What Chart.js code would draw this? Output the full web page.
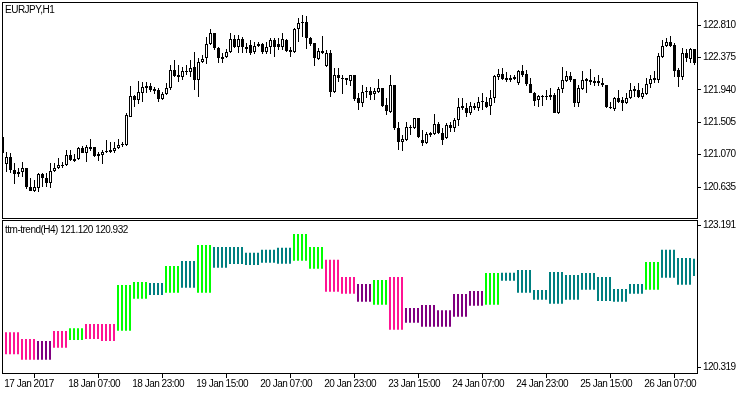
<!DOCTYPE html>
<html>
<head>
<meta charset="utf-8">
<title>EURJPY,H1</title>
<script src="https://cdn.jsdelivr.net/npm/chart.js@4.4.1/dist/chart.umd.min.js"></script>
<style>
    body { margin: 0; background: #fff; }
    #wrap { position: relative; width: 750px; height: 394px; overflow: hidden; }
    canvas { position: absolute; left: 0; }
    #price-chart { top: 0; }
    #trend-chart { top: 218px; }
    .caption {
        position: absolute; left: 5px; color: #000; white-space: nowrap;
        font: 10px "Liberation Sans", Arial, sans-serif; line-height: 10px; letter-spacing: -0.5px;
    }
</style>
</head>
<body>
<div id="wrap">
    <canvas id="price-chart" width="750" height="220"></canvas>
    <canvas id="trend-chart" width="750" height="176"></canvas>
    <div class="caption" style="top:5px">EURJPY,H1</div>
    <div class="caption" style="top:225px">ttm-trend(H4) 121.120 120.932</div>
</div>
<script>
// EURJPY H1 candles, 17 Jan 15:00 .. 26 Jan 20:00
const open = [
    121.307, 120.944, 121.038, 120.864, 120.810, 120.837, 120.890, 120.635, 120.582, 120.622,
    120.810, 120.756, 120.689, 120.850, 120.890, 120.931, 120.931, 121.065, 121.011, 121.011,
    121.159, 121.092, 121.172, 121.172, 121.078, 121.065, 121.119, 121.132, 121.119, 121.159,
    121.213, 121.199, 121.575, 121.857, 121.803, 121.897, 121.991, 121.991, 121.951, 121.938,
    121.817, 121.884, 121.965, 122.206, 122.139, 122.112, 122.193, 122.179, 122.246, 122.072,
    122.314, 122.367, 122.555, 122.703, 122.502, 122.381, 122.381, 122.448, 122.622, 122.515,
    122.622, 122.515, 122.542, 122.448, 122.555, 122.555, 122.448, 122.515, 122.609, 122.555,
    122.515, 122.609, 122.475, 122.448, 122.757, 122.851, 122.851, 122.636, 122.569, 122.354,
    122.461, 122.260, 122.434, 121.911, 122.139, 122.099, 122.099, 122.058, 122.139, 121.830,
    121.763, 121.924, 121.924, 121.884, 121.911, 121.965, 121.736, 121.642, 122.005, 121.427,
    121.240, 121.266, 121.427, 121.427, 121.562, 121.266, 121.226, 121.360, 121.347, 121.481,
    121.360, 121.293, 121.468, 121.427, 121.535, 121.723, 121.696, 121.629, 121.723, 121.696,
    121.777, 121.777, 121.723, 121.830, 122.112, 122.152, 122.099, 122.072, 122.112, 122.032,
    122.193, 122.152, 122.018, 121.897, 121.803, 121.844, 121.857, 121.871, 121.871, 121.629,
    121.951, 122.058, 122.126, 122.085, 121.763, 121.951, 122.058, 122.072, 122.058, 122.058,
    122.032, 122.005, 121.709, 121.683, 121.830, 121.803, 121.763, 121.830, 121.924, 121.938,
    121.844, 121.884, 122.018, 122.072, 122.072, 122.381, 122.528, 122.582, 122.542, 122.206,
    122.112, 122.434, 122.354, 122.488
];
const high = [
    121.307, 121.105, 121.092, 120.958, 120.890, 120.971, 120.890, 120.756, 120.729, 120.823,
    120.823, 120.823, 120.958, 120.958, 121.025, 120.971, 121.132, 121.132, 121.078, 121.172,
    121.186, 121.199, 121.280, 121.172, 121.105, 121.132, 121.266, 121.240, 121.240, 121.280,
    121.240, 121.629, 121.991, 121.871, 122.058, 122.045, 122.045, 122.032, 121.978, 121.965,
    121.911, 122.032, 122.273, 122.340, 122.273, 122.246, 122.273, 122.340, 122.448, 122.367,
    122.408, 122.649, 122.757, 122.703, 122.515, 122.434, 122.488, 122.703, 122.676, 122.676,
    122.649, 122.569, 122.609, 122.582, 122.582, 122.569, 122.582, 122.636, 122.636, 122.636,
    122.703, 122.622, 122.515, 122.770, 122.904, 122.945, 122.931, 122.649, 122.569, 122.502,
    122.663, 122.475, 122.475, 122.233, 122.233, 122.139, 122.099, 122.139, 122.139, 121.897,
    122.005, 121.978, 121.978, 121.965, 122.085, 121.965, 121.830, 122.139, 122.005, 121.508,
    121.333, 121.508, 121.468, 121.562, 121.562, 121.401, 121.374, 121.374, 121.615, 121.508,
    121.427, 121.495, 121.508, 121.562, 121.830, 121.830, 121.763, 121.777, 121.763, 121.844,
    121.897, 121.844, 121.938, 122.139, 122.220, 122.233, 122.179, 122.139, 122.139, 122.206,
    122.273, 122.206, 122.099, 121.911, 121.871, 121.871, 121.938, 121.965, 121.897, 121.978,
    122.246, 122.193, 122.179, 122.085, 122.005, 122.193, 122.099, 122.220, 122.112, 122.139,
    122.099, 122.005, 121.777, 121.844, 121.938, 121.844, 121.897, 122.032, 121.991, 122.032,
    121.965, 122.099, 122.139, 122.193, 122.434, 122.609, 122.636, 122.663, 122.569, 122.233,
    122.502, 122.488, 122.502, 122.488
];
const low = [
    121.092, 120.837, 120.823, 120.676, 120.770, 120.770, 120.608, 120.582, 120.568, 120.568,
    120.635, 120.635, 120.622, 120.837, 120.877, 120.890, 120.917, 120.984, 120.971, 120.998,
    121.092, 120.971, 121.119, 121.038, 120.984, 120.944, 121.092, 121.092, 121.092, 121.146,
    121.172, 121.186, 121.575, 121.709, 121.750, 121.777, 121.897, 121.911, 121.884, 121.777,
    121.803, 121.871, 121.938, 122.112, 122.045, 122.072, 122.139, 122.112, 121.938, 121.844,
    122.300, 122.287, 122.542, 122.475, 122.300, 122.300, 122.367, 122.434, 122.502, 122.434,
    122.434, 122.434, 122.408, 122.421, 122.515, 122.421, 122.421, 122.421, 122.381, 122.475,
    122.475, 122.448, 122.381, 122.434, 122.582, 122.649, 122.488, 122.528, 122.260, 122.340,
    122.421, 122.246, 121.844, 121.897, 122.045, 121.884, 122.005, 121.991, 121.790, 121.669,
    121.709, 121.830, 121.803, 121.803, 121.897, 121.709, 121.602, 121.629, 121.401, 121.132,
    121.119, 121.253, 121.333, 121.414, 121.293, 121.186, 121.213, 121.307, 121.333, 121.347,
    121.199, 121.280, 121.374, 121.374, 121.454, 121.669, 121.575, 121.602, 121.669, 121.656,
    121.669, 121.696, 121.602, 121.763, 122.072, 122.072, 122.045, 122.045, 122.072, 122.005,
    122.112, 121.991, 121.897, 121.723, 121.709, 121.723, 121.803, 121.803, 121.629, 121.615,
    121.897, 122.045, 122.045, 121.709, 121.709, 121.938, 121.897, 122.005, 121.991, 121.991,
    121.978, 121.696, 121.683, 121.656, 121.763, 121.656, 121.750, 121.817, 121.844, 121.830,
    121.817, 121.871, 121.965, 122.032, 122.032, 122.367, 122.515, 122.515, 122.112, 121.978,
    122.072, 122.314, 122.300, 122.273
];
const close = [
    121.092, 121.038, 120.864, 120.810, 120.837, 120.890, 120.635, 120.582, 120.635, 120.810,
    120.756, 120.689, 120.850, 120.890, 120.931, 120.917, 121.065, 120.998, 120.984, 121.159,
    121.092, 121.172, 121.146, 121.052, 121.052, 121.105, 121.105, 121.105, 121.159, 121.199,
    121.199, 121.602, 121.857, 121.803, 121.911, 121.978, 121.965, 121.938, 121.924, 121.817,
    121.884, 121.965, 122.206, 122.126, 122.112, 122.193, 122.179, 122.233, 122.072, 122.314,
    122.354, 122.555, 122.703, 122.502, 122.367, 122.354, 122.448, 122.622, 122.515, 122.622,
    122.515, 122.488, 122.434, 122.528, 122.528, 122.448, 122.515, 122.609, 122.515, 122.515,
    122.622, 122.461, 122.448, 122.757, 122.837, 122.837, 122.636, 122.555, 122.367, 122.461,
    122.434, 122.434, 121.911, 122.139, 122.099, 122.085, 122.072, 122.139, 121.817, 121.763,
    121.911, 121.911, 121.871, 121.924, 121.965, 121.723, 121.656, 122.005, 121.427, 121.240,
    121.280, 121.441, 121.441, 121.562, 121.307, 121.226, 121.347, 121.333, 121.481, 121.360,
    121.266, 121.468, 121.427, 121.535, 121.709, 121.696, 121.629, 121.723, 121.696, 121.777,
    121.790, 121.709, 121.830, 122.126, 122.152, 122.085, 122.072, 122.099, 122.085, 122.193,
    122.139, 122.018, 121.897, 121.790, 121.857, 121.857, 121.844, 121.844, 121.629, 121.951,
    122.072, 122.126, 122.072, 121.763, 121.965, 122.072, 122.085, 122.045, 122.032, 122.032,
    122.005, 121.709, 121.696, 121.830, 121.777, 121.763, 121.830, 121.938, 121.951, 121.844,
    121.897, 122.018, 122.085, 122.099, 122.394, 122.528, 122.582, 122.528, 122.193, 122.112,
    122.434, 122.367, 122.488, 122.300
];

// ttm-trend on H4: one range per H4 bar, each H4 bar spans 4 H1 bars (first starts at H1 bar 1)
const h4High = [
    121.035, 120.900, 120.859, 121.062, 121.116, 121.203, 121.203, 121.992, 122.053, 122.032,
    122.376, 122.477, 122.801, 122.760, 122.760, 122.645, 122.706, 122.746, 123.023, 122.760,
    122.504, 122.154, 122.012, 122.093, 122.154, 121.527, 121.587, 121.480, 121.810, 121.871,
    122.235, 122.241, 122.295, 121.891, 122.255, 122.194, 122.235, 122.154, 121.911, 122.012,
    122.457, 122.706, 122.538, 122.524
];
const h4Low = [
    120.590, 120.481, 120.481, 120.724, 120.880, 120.900, 120.859, 121.068, 121.715, 121.790,
    121.836, 121.937, 121.836, 122.342, 122.417, 122.396, 122.443, 122.423, 122.483, 122.322,
    121.856, 121.816, 121.654, 121.593, 121.088, 121.229, 121.149, 121.149, 121.351, 121.573,
    121.593, 122.079, 121.836, 121.695, 121.614, 121.695, 121.897, 121.668, 121.654, 121.816,
    121.897, 122.140, 121.998, 122.174
];
const h4Trend = [
    'dn', 'dn', 'dnW', 'dn', 'up', 'dn', 'dn', 'up', 'up', 'upW',
    'up', 'upW', 'up', 'upW', 'upW', 'upW', 'upW', 'upW', 'up', 'up',
    'dn', 'dn', 'dnW', 'up', 'dn', 'dnW', 'dnW', 'dnW', 'dnW', 'dnW',
    'up', 'upW', 'upW', 'upW', 'upW', 'upW', 'upW', 'upW', 'upW', 'upW',
    'up', 'upW', 'upW', 'upW'
];
const trendColors = { up: '#00ff00', upW: '#008080', dn: '#ff1493', dnW: '#800080' };

const priceTicks = [122.810, 122.375, 121.940, 121.505, 121.070, 120.635];
const trendTicks = [123.191, 120.319];
const timeTickBars = [0, 16, 32, 48, 64, 80, 96, 112, 128, 144, 160];
const timeLabels = ['17 Jan 2017', '18 Jan 07:00', '18 Jan 23:00', '19 Jan 15:00', '20 Jan 07:00',
    '20 Jan 23:00', '23 Jan 15:00', '24 Jan 07:00', '24 Jan 23:00', '25 Jan 15:00', '26 Jan 07:00'];

const FONT = { family: '"Liberation Sans", Arial, sans-serif', size: 10 };

// MetaTrader style: tight text and a plain black frame round the plot
const framePlugin = {
    id: 'frame',
    beforeLayout(chart) { chart.ctx.letterSpacing = '-0.5px'; },
    beforeDraw(chart) { chart.ctx.letterSpacing = '-0.5px'; },
    afterDraw(chart) {
        const { ctx, chartArea: a } = chart;
        ctx.save();
        ctx.strokeStyle = '#000';
        ctx.lineWidth = 1;
        ctx.strokeRect(a.left + 0.5, a.top + 0.5, a.right - a.left, a.bottom - a.top);
        ctx.restore();
    }
};

function noPadding(scale) {
    scale.paddingTop = 0;
    scale.paddingBottom = 0;
    scale.paddingLeft = 0;
    scale.paddingRight = 0;
}

function rightAxis(min, max, values) {
    return {
        position: 'right',
        bounds: 'data',
        min: min,
        max: max,
        afterBuildTicks: scale => { scale.ticks = values.map(v => ({ value: v })); },
        afterFit: scale => { scale.width = 53; noPadding(scale); },
        grid: { drawOnChartArea: false, tickLength: 4, color: '#000' },
        border: { display: false },
        ticks: { padding: 2, color: '#000', font: FONT, autoSkip: false, callback: v => v.toFixed(3) }
    };
}

function drawPriceChart() {
    const bars = open.map((_, i) => i);
    const ctx = document.getElementById('price-chart').getContext('2d');

    new Chart(ctx, {
        type: 'bar',
        data: {
            datasets: [{
                // candle bodies
                data: bars.map(i => ({ x: i, y: [open[i], close[i]] })),
                backgroundColor: bars.map(i => close[i] >= open[i] ? '#ffffff' : '#000000'),
                borderColor: '#000000',
                borderWidth: 1,
                borderSkipped: false,
                barThickness: 3,
                minBarLength: 1,
                inflateAmount: 0,
                grouped: false,
                order: 0
            }, {
                // wicks
                data: bars.map(i => ({ x: i, y: [low[i], high[i]] })),
                backgroundColor: '#000000',
                borderWidth: 0,
                barThickness: 1,
                inflateAmount: 0,
                grouped: false,
                order: 1
            }]
        },
        options: {
            responsive: false,
            animation: false,
            events: [],
            layout: { padding: { left: 2, top: 2, right: 0, bottom: 2 } },
            plugins: { legend: { display: false }, tooltip: { enabled: false } },
            scales: {
                x: { type: 'linear', min: -0.125, max: 173.625, offset: false, display: false },
                y: rightAxis(120.219, 123.119, priceTicks)
            }
        },
        plugins: [framePlugin]
    });
}

function drawTrendChart() {
    const bars = [];
    const colors = [];
    h4High.forEach((hi, g) => {
        for (let j = 1; j <= 4; j++) {
            const k = g * 4 + j;
            if (k >= open.length) break;
            bars.push({ x: k, y: [h4Low[g], hi] });
            colors.push(trendColors[h4Trend[g]]);
        }
    });

    const ctx = document.getElementById('trend-chart').getContext('2d');
    new Chart(ctx, {
        type: 'bar',
        data: {
            datasets: [{
                data: bars,
                backgroundColor: colors,
                borderWidth: 0,
                barThickness: 2,
                inflateAmount: 0,
                grouped: false
            }]
        },
        options: {
            responsive: false,
            animation: false,
            events: [],
            layout: { padding: { left: 2, top: 2, right: 0, bottom: 0 } },
            plugins: { legend: { display: false }, tooltip: { enabled: false } },
            scales: {
                x: {
                    type: 'linear', min: 0, max: 173.75, offset: false, position: 'bottom',
                    afterBuildTicks: scale => { scale.ticks = timeTickBars.map(v => ({ value: v })); },
                    afterFit: scale => { scale.height = 21; noPadding(scale); },
                    grid: { drawOnChartArea: false, tickLength: 5, color: '#000' },
                    border: { display: false },
                    ticks: {
                        align: 'start', maxRotation: 0, autoSkip: false, padding: 0,
                        color: '#000', font: FONT,
                        callback: (v, i) => ' ' + timeLabels[i]
                    }
                },
                y: rightAxis(120.212, 123.306, trendTicks)
            }
        },
        plugins: [framePlugin]
    });
}

window.addEventListener('load', () => {
    drawPriceChart();
    drawTrendChart();
});
</script>
</body>
</html>
